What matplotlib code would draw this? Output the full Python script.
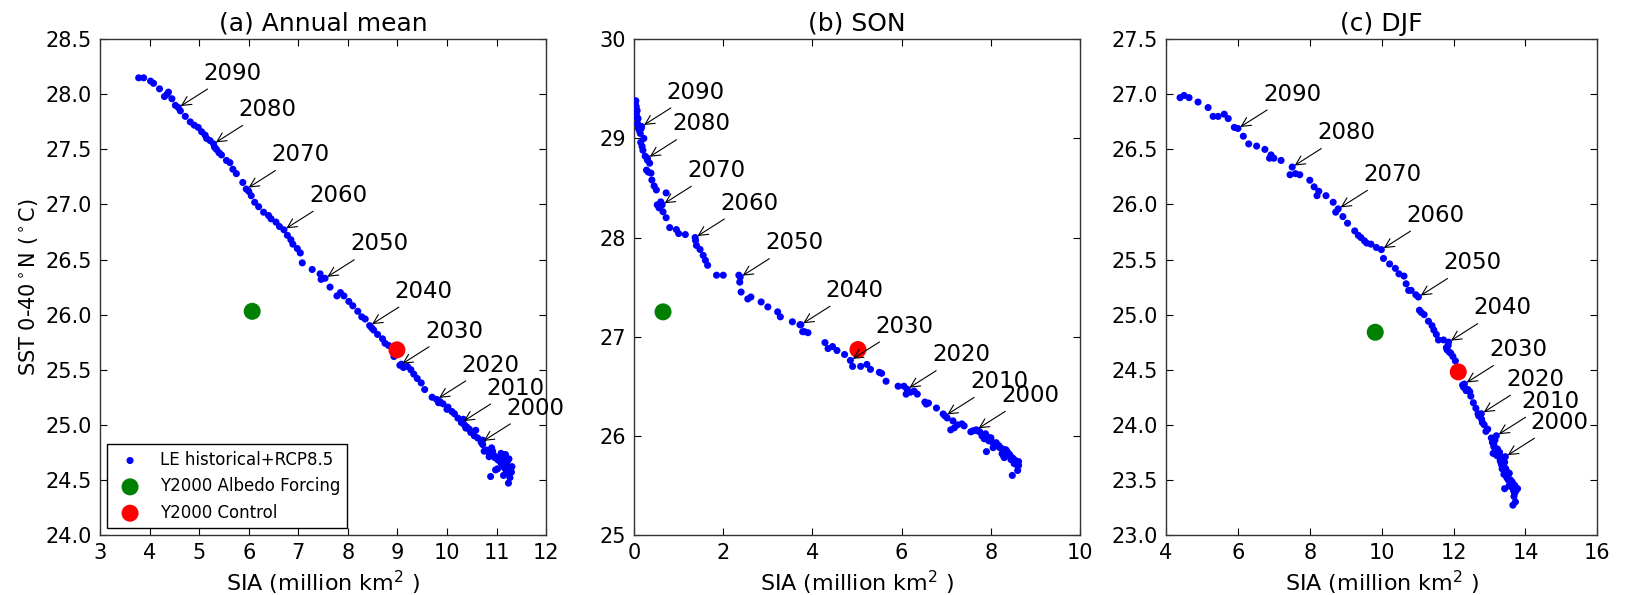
import matplotlib
matplotlib.use("Agg")
import matplotlib.pyplot as plt

# ── Data ──────────────────────────────────────────────────────────────────────
years = list(range(1960, 2101))
label_years = [2000, 2010, 2020, 2030, 2040, 2050, 2060, 2070, 2080, 2090]

# (a) annual mean
sia_annual = [
    11.15, 11.22, 11.08, 11.25, 11.18, 11.30, 11.12, 11.20, 11.27, 11.05,
    11.16, 11.24, 11.10, 11.28, 11.19, 11.02, 11.22, 11.14, 11.31, 11.08,
    11.17, 10.98, 11.25, 11.12, 10.95, 11.20, 11.06, 11.13, 10.88, 11.18,
    10.92, 11.03, 10.85, 11.09, 10.80, 10.97, 10.90, 10.75, 10.86, 10.72,
    10.69, 10.72, 10.62, 10.55, 10.58, 10.48, 10.40, 10.45, 10.35, 10.38,
    10.29, 10.33, 10.22, 10.15, 10.10, 10.02, 10.00, 9.92, 9.86, 9.83,
    9.79, 9.70, 9.55, 9.48, 9.40, 9.33, 9.27, 9.20, 9.12, 9.08,
    9.05, 8.98, 8.93, 8.90, 8.82, 8.75, 8.70, 8.60, 8.52, 8.48,
    8.44, 8.35, 8.28, 8.20, 8.10, 8.02, 7.92, 7.85, 7.78, 7.64,
    7.54, 7.46, 7.44, 7.28, 7.08, 7.04, 6.98, 6.89, 6.85, 6.78,
    6.71, 6.62, 6.55, 6.45, 6.40, 6.30, 6.20, 6.12, 6.05, 6.00,
    5.95, 5.88, 5.75, 5.68, 5.62, 5.55, 5.45, 5.40, 5.35, 5.31,
    5.29, 5.22, 5.15, 5.12, 5.05, 4.98, 4.90, 4.82, 4.72, 4.62,
    4.58, 4.52, 4.45, 4.35, 4.30, 4.38, 4.20, 4.08, 4.02, 3.88, 3.78]
sst_annual = [
    24.62, 24.58, 24.66, 24.55, 24.60, 24.57, 24.68, 24.63, 24.52, 24.70,
    24.61, 24.47, 24.65, 24.59, 24.64, 24.60, 24.67, 24.54, 24.62, 24.71,
    24.66, 24.59, 24.69, 24.64, 24.72, 24.58, 24.70, 24.67, 24.53, 24.73,
    24.76, 24.68, 24.71, 24.74, 24.77, 24.70, 24.79, 24.76, 24.73, 24.82,
    24.84, 24.86, 24.88, 24.90, 24.95, 24.93, 24.98, 24.96, 25.00, 24.97,
    25.02, 25.05, 25.06, 25.10, 25.12, 25.16, 25.14, 25.19, 25.21, 25.20,
    25.23, 25.25, 25.32, 25.38, 25.42, 25.46, 25.50, 25.53, 25.52, 25.55,
    25.54, 25.66, 25.62, 25.70, 25.72, 25.74, 25.78, 25.82, 25.86, 25.88,
    25.90, 25.96, 25.98, 26.03, 26.08, 26.12, 26.17, 26.20, 26.17, 26.25,
    26.33, 26.32, 26.37, 26.41, 26.47, 26.56, 26.60, 26.64, 26.68, 26.72,
    26.77, 26.80, 26.84, 26.87, 26.90, 26.93, 26.98, 27.02, 27.08, 27.12,
    27.14, 27.20, 27.28, 27.32, 27.38, 27.40, 27.45, 27.47, 27.50, 27.52,
    27.55, 27.58, 27.60, 27.63, 27.66, 27.70, 27.72, 27.75, 27.80, 27.85,
    27.88, 27.90, 27.96, 28.00, 27.98, 28.02, 28.05, 28.10, 28.12, 28.15, 28.15]

# (b) SON
sia_son = [
    8.55, 8.40, 8.62, 8.30, 8.48, 8.58, 8.25, 8.45, 8.60, 8.35,
    8.52, 8.20, 8.44, 8.62, 8.38, 8.15, 8.50, 8.28, 8.57, 8.10,
    8.42, 7.90, 8.33, 8.05, 8.47, 8.18, 7.95, 8.36, 8.00, 8.25,
    7.85, 8.12, 7.92, 7.80, 8.02, 7.88, 7.75, 7.95, 7.70, 7.82,
    7.67, 7.60, 7.55, 7.40, 7.35, 7.25, 7.18, 7.15, 7.10, 7.02,
    6.97, 6.93, 6.78, 6.60, 6.55, 6.52, 6.35, 6.28, 6.20, 6.10,
    6.12, 6.05, 5.92, 5.65, 5.55, 5.50, 5.30, 5.22, 5.08, 4.90,
    4.85, 4.72, 4.55, 4.45, 4.35, 4.28, 3.90, 3.82, 3.78, 3.72,
    3.74, 3.55, 3.28, 3.22, 3.00, 2.85, 2.62, 2.55, 2.40, 2.37,
    2.38, 2.35, 2.00, 1.85, 1.65, 1.60, 1.55, 1.48, 1.40, 1.38,
    1.37, 1.15, 1.00, 0.95, 0.80, 0.72, 0.65, 0.56, 0.52, 0.60,
    0.63, 0.72, 0.50, 0.45, 0.40, 0.38, 0.32, 0.28, 0.35, 0.30,
    0.30, 0.25, 0.20, 0.18, 0.15, 0.22, 0.14, 0.12, 0.16, 0.10,
    0.17, 0.10, 0.08, 0.09, 0.06, 0.05, 0.07, 0.04, 0.05, 0.03, 0.04]
sst_son = [
    25.75, 25.80, 25.70, 25.78, 25.60, 25.73, 25.82, 25.76, 25.65, 25.85,
    25.72, 25.88, 25.79, 25.74, 25.83, 25.90, 25.77, 25.80, 25.71, 25.92,
    25.81, 25.84, 25.86, 25.88, 25.78, 25.90, 25.95, 25.82, 25.98, 25.87,
    25.97, 25.93, 25.99, 26.00, 25.94, 26.02, 26.04, 25.96, 26.05, 26.01,
    26.06, 26.05, 26.04, 26.10, 26.12, 26.11, 26.08, 26.15, 26.06, 26.18,
    26.20, 26.22, 26.28, 26.33, 26.32, 26.34, 26.42, 26.45, 26.44, 26.42,
    26.47, 26.50, 26.50, 26.55, 26.63, 26.64, 26.67, 26.72, 26.70, 26.70,
    26.76, 26.82, 26.86, 26.90, 26.88, 26.94, 27.04, 27.05, 27.05, 27.12,
    27.12, 27.15, 27.20, 27.25, 27.30, 27.35, 27.40, 27.38, 27.45, 27.55,
    27.60, 27.62, 27.62, 27.62, 27.72, 27.77, 27.82, 27.88, 27.92, 27.97,
    28.00, 28.03, 28.04, 28.08, 28.10, 28.20, 28.26, 28.30, 28.33, 28.36,
    28.33, 28.45, 28.48, 28.52, 28.58, 28.65, 28.66, 28.68, 28.75, 28.78,
    28.80, 28.82, 28.88, 28.92, 28.96, 29.00, 29.05, 29.08, 29.10, 29.12,
    29.12, 29.10, 29.15, 29.20, 29.22, 29.25, 29.28, 29.30, 29.32, 29.35, 29.38]

# (c) DJF
sia_djf = [
    13.55, 13.70, 13.48, 13.75, 13.62, 13.40, 13.68, 13.52, 13.78, 13.45,
    13.60, 13.72, 13.35, 13.65, 13.58, 13.50, 13.73, 13.42, 13.63, 13.55,
    13.38, 13.67, 13.47, 13.70, 13.33, 13.58, 13.45, 13.52, 13.30, 13.60,
    13.40, 13.48, 13.36, 13.22, 13.44, 13.30, 13.38, 13.25, 13.35, 13.42,
    13.44, 13.35, 13.28, 13.20, 13.10, 13.12, 13.22, 13.08, 13.15, 13.12,
    13.19, 13.05, 13.10, 12.95, 12.90, 12.85, 12.80, 12.78, 12.72, 12.68,
    12.77, 12.70, 12.62, 12.55, 12.48, 12.45, 12.40, 12.35, 12.28, 12.25,
    12.30, 12.18, 12.12, 12.05, 11.98, 11.92, 11.88, 11.80, 11.85, 11.82,
    11.86, 11.72, 11.58, 11.52, 11.45, 11.40, 11.30, 11.18, 11.10, 11.05,
    11.02, 10.95, 10.82, 10.75, 10.68, 10.62, 10.48, 10.38, 10.22, 10.05,
    9.99, 9.85, 9.70, 9.58, 9.52, 9.42, 9.35, 9.25, 9.05, 8.92,
    8.79, 8.72, 8.65, 8.45, 8.20, 8.25, 8.12, 8.00, 7.72, 7.60,
    7.51, 7.45, 7.20, 7.00, 6.92, 6.88, 6.75, 6.52, 6.30, 6.15,
    6.00, 5.90, 5.73, 5.62, 5.45, 5.31, 5.17, 4.89, 4.64, 4.39, 4.50]
sst_djf = [
    23.45, 23.38, 23.52, 23.42, 23.48, 23.55, 23.35, 23.50, 23.42, 23.58,
    23.46, 23.30, 23.60, 23.27, 23.44, 23.53, 23.40, 23.42, 23.48, 23.56,
    23.62, 23.40, 23.58, 23.45, 23.64, 23.50, 23.60, 23.55, 23.67, 23.48,
    23.62, 23.57, 23.65, 23.73, 23.60, 23.68, 23.64, 23.75, 23.70, 23.66,
    23.71, 23.70, 23.75, 23.72, 23.74, 23.80, 23.78, 23.84, 23.86, 23.82,
    23.90, 23.88, 23.85, 23.96, 23.94, 24.00, 24.02, 24.05, 24.08, 24.10,
    24.10, 24.08, 24.15, 24.20, 24.26, 24.30, 24.32, 24.31, 24.34, 24.36,
    24.37, 24.50, 24.52, 24.58, 24.62, 24.65, 24.66, 24.70, 24.72, 24.68,
    24.75, 24.77, 24.77, 24.82, 24.86, 24.90, 24.94, 25.00, 25.02, 25.04,
    25.16, 25.18, 25.22, 25.22, 25.28, 25.35, 25.37, 25.42, 25.46, 25.51,
    25.59, 25.61, 25.64, 25.65, 25.67, 25.70, 25.72, 25.76, 25.83, 25.89,
    25.96, 25.93, 26.02, 26.08, 26.08, 26.12, 26.16, 26.22, 26.27, 26.28,
    26.34, 26.27, 26.40, 26.42, 26.45, 26.42, 26.50, 26.53, 26.55, 26.62,
    26.69, 26.70, 26.78, 26.82, 26.80, 26.80, 26.88, 26.93, 26.97, 26.97, 26.99]

# Y2000 experiments: [annual, SON, DJF]
albedo_sia = [6.07, 0.65, 9.82]
albedo_sst = [26.03, 27.25, 24.84]
control_sia = [8.99, 5.02, 12.13]
control_sst = [25.68, 26.87, 24.48]

titles = ["(a) Annual mean", "(b) SON", "(c) DJF"]
xlims = [(3, 12), (0, 10), (4, 16)]
ylims = [(24.0, 28.5), (25, 30), (23.0, 27.5)]
xticks = [list(range(3, 13)), list(range(0, 11, 2)), list(range(4, 17, 2))]
yticks = [[24.0 + 0.5 * i for i in range(10)], list(range(25, 31)),
          [23.0 + 0.5 * i for i in range(10)]]

# ── Style ─────────────────────────────────────────────────────────────────────
plt.rcParams.update({
    "xtick.direction": "in", "ytick.direction": "in",
    "xtick.top": True, "ytick.right": True,
    "xtick.major.size": 5, "ytick.major.size": 5,
    "axes.linewidth": 1.0, "axes.edgecolor": "#333333",
})

fig = plt.figure(figsize=(16.4, 5.95), dpi=100, facecolor="white")
boxes = [[0.061, 0.101, 0.272, 0.833],
         [0.3866, 0.101, 0.272, 0.833],
         [0.711, 0.101, 0.263, 0.833]]
series = [(sia_annual, sst_annual), (sia_son, sst_son), (sia_djf, sst_djf)]

for i, (sia, sst) in enumerate(series):
    ax = fig.add_axes(boxes[i])
    ax.scatter(sia, sst, s=26, c="b", edgecolors="none", zorder=3,
               label="LE historical+RCP8.5")
    ax.scatter([albedo_sia[i]], [albedo_sst[i]], s=150, c="#008000",
               edgecolors="none", zorder=4, label="Y2000 Albedo Forcing")
    ax.scatter([control_sia[i]], [control_sst[i]], s=150, c="r",
               edgecolors="none", zorder=4, label="Y2000 Control")

    for yr in label_years:
        k = years.index(yr)
        ax.annotate(str(yr), xy=(sia[k], sst[k]), xytext=(18, 20),
                    textcoords="offset points", ha="left", va="baseline",
                    fontsize=16.5, zorder=5,
                    arrowprops=dict(arrowstyle="->", color="k", lw=0.8))

    ax.set_xlim(*xlims[i]); ax.set_ylim(*ylims[i])
    ax.set_xticks(xticks[i]); ax.set_yticks(yticks[i])
    if i != 1:
        ax.set_yticklabels(["%.1f" % v for v in yticks[i]])
    ax.tick_params(labelsize=15, pad=6)
    ax.set_title(titles[i], fontsize=18, pad=6)
    ax.set_xlabel(r"SIA (million km$^2$ )", fontsize=16, labelpad=4)
    if i == 0:
        ax.set_ylabel(r"SST 0-40$^\circ$N ($^\circ$C)", fontsize=15)
        leg = ax.legend(loc="lower left", scatterpoints=1, fontsize=12,
                        fancybox=False, framealpha=1, borderaxespad=0.4,
                        handletextpad=0.8)
        leg.get_frame().set_edgecolor("k")

fig.savefig("out.png", dpi=100, facecolor="white")
